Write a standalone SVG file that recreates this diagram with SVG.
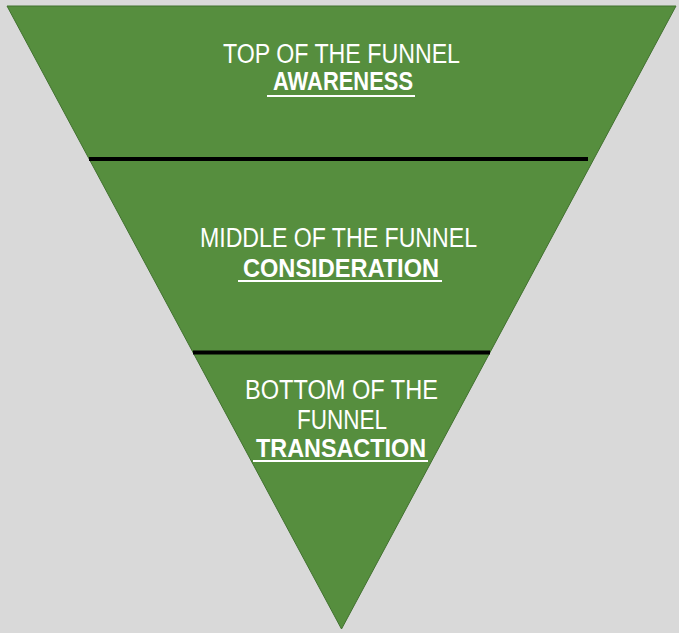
<svg xmlns="http://www.w3.org/2000/svg" width="679" height="633" viewBox="0 0 679 633">
<style>
.t{font-family:"Liberation Sans",Arial,sans-serif;fill:#ffffff;text-anchor:middle;font-size:27px}
.b{font-weight:bold;font-size:25px}
.u{stroke:#ffffff;stroke-width:2}
.sep{stroke:#000000;stroke-width:4}
</style>
<rect width="679" height="633" fill="#d9d9d9"/>
<g id="funnel">
<polygon points="7,6 676,6 341.5,629" fill="#568e3e" stroke="#41712f" stroke-width="1"/>
</g>
<g id="separators">
<line class="sep" x1="89" y1="159" x2="588" y2="159"/>
<line class="sep" x1="193" y1="352.5" x2="490" y2="352.5"/>
</g>
<g id="top">
<text class="t" x="341.5" y="63" textLength="237" lengthAdjust="spacingAndGlyphs">TOP OF THE FUNNEL</text>
<text class="t b" x="343" y="90" textLength="140" lengthAdjust="spacingAndGlyphs">AWARENESS</text>
<line class="u" x1="267" y1="96" x2="415" y2="96"/>
</g>
<g id="middle">
<text class="t" x="338.5" y="247" textLength="277" lengthAdjust="spacingAndGlyphs">MIDDLE OF THE FUNNEL</text>
<text class="t b" x="341" y="277" textLength="196" lengthAdjust="spacingAndGlyphs">CONSIDERATION</text>
<line class="u" x1="238" y1="281" x2="442" y2="281"/>
</g>
<g id="bottom">
<text class="t" x="341.5" y="399" textLength="193" lengthAdjust="spacingAndGlyphs">BOTTOM OF THE</text>
<text class="t" x="342" y="429" textLength="90" lengthAdjust="spacingAndGlyphs">FUNNEL</text>
<text class="t b" x="341" y="457" textLength="170" lengthAdjust="spacingAndGlyphs">TRANSACTION</text>
<line class="u" x1="253" y1="461" x2="428" y2="461"/>
</g>
</svg>
